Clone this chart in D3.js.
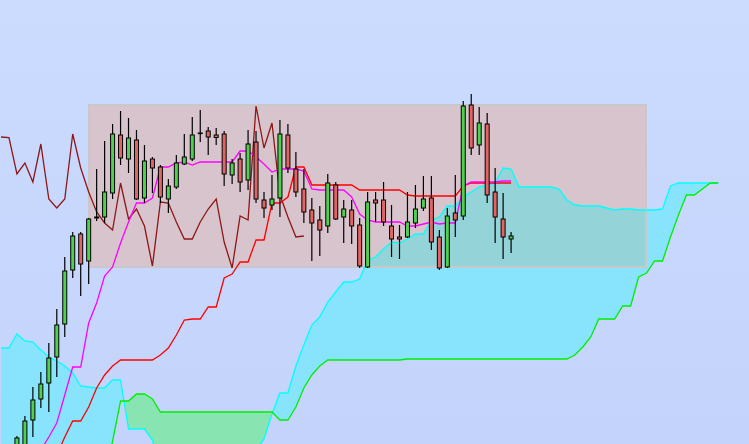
<!DOCTYPE html>
<html><head><meta charset="utf-8">
<script src="https://cdn.jsdelivr.net/npm/d3@7"></script>
<style>html,body{margin:0;padding:0;overflow:hidden;background:#c8d8fd}svg{display:block}</style>
</head><body>
<svg id="c" width="749" height="444"></svg>
<script>
// ---- DATA (bar index 0..90; candles start at bar 2) ----
const firstCandle = 2;
const opens = [48,53,80,101,117,143,176,230,266,239,
  282,283,307,365,341,360,302,341,333,301,
  313,336,341,367,369,365,366,325,341,320,
  358,300,295,302,365,331,311,290,280,274,
  315,283,290,275,233,300,300,274,263,263,
  277,292,302,263,233,287,284,395,355,376,
  308,281,261];
const highs = [64,84,113,128,157,191,243,268,268,282,
  331,359,376,389,382,370,355,343,335,321,
  345,366,383,390,373,372,369,341,347,370,
  369,308,325,380,376,348,331,302,294,326,
  318,300,300,282,308,308,318,295,275,308,
  315,324,324,270,292,325,399,406,393,387,
  332,307,268];
const lows = [42,50,63,92,88,123,163,222,204,216,
  279,277,301,335,327,300,297,307,297,287,
  311,335,339,358,345,355,314,316,308,310,
  297,282,290,283,327,303,277,239,244,267,
  280,257,256,232,232,278,274,243,241,262,
  272,289,250,230,232,263,280,345,345,297,
  257,241,247];
const closes = [62,79,100,116,142,175,229,264,236,281,
  283,308,366,342,362,301,339,332,303,314,
  337,343,365,367,363,362.5,326,337,318,356,
  301,292,301,366,332,308,288,277,270,317,
  281,291,274,234,298,297,278,261,261,278,
  291,301,258,232,284,280,394,352,377,305,
  283,263,264];
const tenkan = [20,30,40,50,63,77,105,133,133,177,
  197,224,233,257,278,297,297,302,333,333,
  337,338,335,338,338,338,338,338,349,349,
  343,336,328,331,331,331,329,311,310,310,
  310,310,303,286,280,278,278,278,278,274,
  274,276,278,276,277,277,314,318,318,318,
  318,319,319];
const kijun = [20,25,30,35,40,45,63,79,79,93,
  112,125,134,140,140,140,140,140,145,152,
  165,180,181,181,193,193,222,226,238,238,
  260,260,297,297,303,333,333,315,315,315,
  315,315,315,310,310,310,310,310,310,305,
  304,304,304,304,304,304,314,317,317,317,
  317,317,317];
const senkouA = [152,152,166,159,158,150,143,139,134,127,
  114,113,112,112,120,120,71,71,71,60,
  30,15,5,0,-5,-5,-5,0,5,15,
  30,40,50,61,86,107,107,134,155,175,
  183,198,208,218,218,221,240,243,251,258,
  257,261,266,266,280,283,294,294,303,308,
  313,315,317,332,331,313,313,313,313,313,
  311,300,295,294,294,294,292,290,291,291,
  290,290,290,291,314,317,317,317,317,317,317];
const senkouB = [5,5,5,5,5,5,5,5,5,5,
  5,5,5,20,59,99,99,106,106,101,
  88,88,88,88,88,88,88,88,88,88,
  88,88,88,88,88,80,80,93,112,125,
  134,140,140,140,140,140,140,140,140,140,
  140,141,141,141,141,141,141,141,141,141,
  141,141,141,141,141,141,141,141,141,141,
  141,141,145,153,163,181,181,181,194,194,
  223,227,239,239,263,285,305,305,311,317,317];
const chikouShift = 26;
const box = {from: 11.04, to: 80.93, low: 233, high: 395};

// ---- SCALES ----
const W = 749, H = 444;
const x = d3.scaleLinear().domain([0, 90]).range([1, 1 + 7.97 * 90]);
const y = d3.scaleLinear().domain([56, 500]).range([H, 0]);

const svg = d3.select('#c');
const defs = svg.append('defs');
const g = defs.append('linearGradient').attr('id','bg').attr('x1',0).attr('y1',0).attr('x2',0).attr('y2',1);
g.append('stop').attr('offset','0%').attr('stop-color','#ccdcff');
g.append('stop').attr('offset','100%').attr('stop-color','#c3d3fb');
svg.append('rect').attr('width',W).attr('height',H).attr('fill','url(#bg)');

const cloud = senkouA.map((a,i)=>({i, a, b: senkouB[i]}));
const aboveB = d3.area().x(d=>x(d.i)).y0(-50).y1(d=>y(d.b));
const aboveA = d3.area().x(d=>x(d.i)).y0(-50).y1(d=>y(d.a));
defs.append('clipPath').attr('id','cB').append('path').attr('d', aboveB(cloud));
defs.append('clipPath').attr('id','cA').append('path').attr('d', aboveA(cloud));
defs.append('clipPath').attr('id','cR').append('rect')
  .attr('x', x(box.from)).attr('y', y(box.high))
  .attr('width', x(box.to)-x(box.from)).attr('height', y(box.low)-y(box.high));

const poly = d3.area().x(d=>x(d.i)).y0(d=>y(d.a)).y1(d=>y(d.b));
svg.append('path').attr('d', poly(cloud)).attr('fill','#88e4fc').attr('clip-path','url(#cB)');
svg.append('path').attr('d', poly(cloud)).attr('fill','#88e4b0').attr('clip-path','url(#cA)');

// box
svg.append('rect').attr('x', x(box.from)).attr('y', y(box.high))
  .attr('width', x(box.to)-x(box.from)).attr('height', y(box.low)-y(box.high))
  .attr('fill','#d8c4cc');
const inBox = svg.append('g').attr('clip-path','url(#cR)');
inBox.append('path').attr('d', poly(cloud)).attr('fill','#94d4d8').attr('clip-path','url(#cB)');
inBox.append('path').attr('d', poly(cloud)).attr('fill','#94d4b8').attr('clip-path','url(#cA)');
svg.append('rect').attr('x', x(box.from)).attr('y', y(box.high))
  .attr('width', x(box.to)-x(box.from)).attr('height', y(box.low)-y(box.high))
  .attr('fill','none').attr('stroke','#c8c8cc').attr('stroke-width',2);

// lines
const line = d3.line().x(d=>x(d[0])).y(d=>y(d[1]));
function drawLine(pts, color){
  svg.append('path').attr('d', line(pts)).attr('fill','none')
    .attr('stroke', color).attr('stroke-width', 1.3);
}
drawLine(senkouA.map((v,i)=>[i,v]), '#00ffff');
drawLine(senkouB.map((v,i)=>[i,v]), '#00ee00');
const chikou = closes.map((c,k)=>[k+firstCandle-chikouShift, c]).filter(d=>d[0]>=0);
drawLine(chikou, '#8e1616');
drawLine(kijun.map((v,k)=>[k+firstCandle, v]), '#ff0000');
drawLine(tenkan.map((v,k)=>[k+firstCandle, v]), '#ff00ff');

// candles
const candles = opens.map((o,k)=>({i:k+firstCandle, o, h:highs[k], l:lows[k], c:closes[k]}));
const cg = svg.append('g');
cg.selectAll('line.w').data(candles).join('line')
  .attr('x1', d=>x(d.i)).attr('x2', d=>x(d.i))
  .attr('y1', d=>y(d.h)).attr('y2', d=>y(d.l))
  .attr('stroke','#000').attr('stroke-width',1.2);
cg.selectAll('rect.b').data(candles).join('rect')
  .attr('x', d=>x(d.i)-2).attr('width',4)
  .attr('y', d=>y(Math.max(d.o,d.c)))
  .attr('height', d=>Math.max(Math.abs(y(d.o)-y(d.c)), 0.6))
  .attr('fill', d=>d.c>=d.o ? '#4fd04f' : '#e06666')
  .attr('stroke','#000').attr('stroke-width',1);
</script>
</body></html>
